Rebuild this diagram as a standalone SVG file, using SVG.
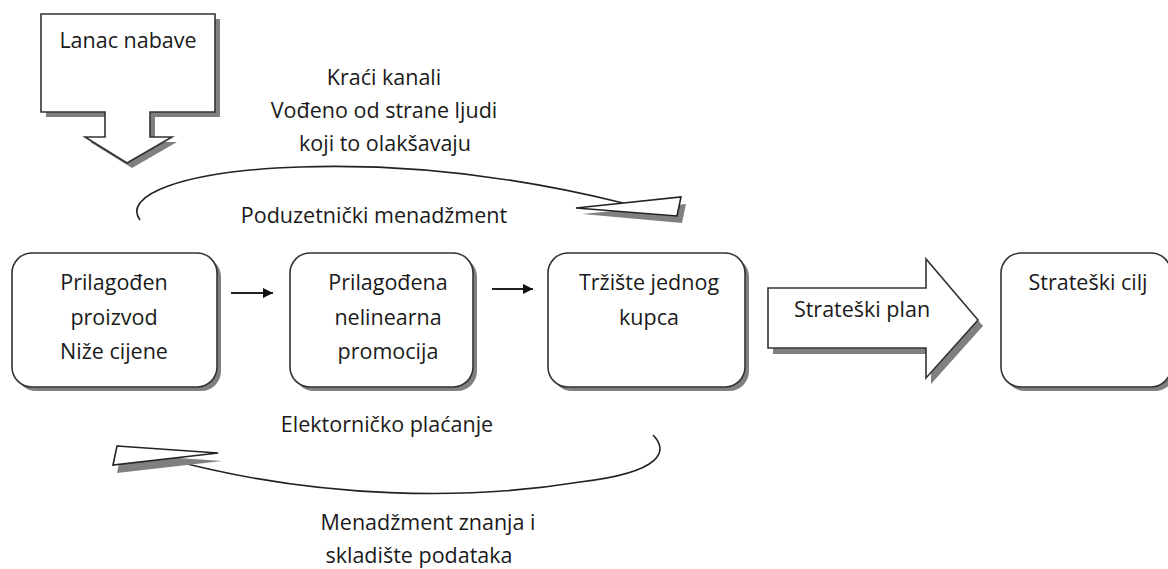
<svg xmlns="http://www.w3.org/2000/svg" width="1168" height="569" viewBox="0 0 1168 569">
<style>
text{font-family:"Open Sans","Noto Sans","DejaVu Sans",sans-serif;font-size:21.5px;fill:#1a1a1a;text-anchor:middle}
.box{fill:#fff;stroke:#333;stroke-width:1.6}
.shadow{fill:#808080}
.curve{fill:none;stroke:#222;stroke-width:1.6}
.head{fill:#fff;stroke:#222;stroke-width:1.6;stroke-linejoin:miter}
.small{stroke:#222;stroke-width:2;fill:none}
</style>
<defs>
<marker id="ah" markerWidth="10" markerHeight="10" refX="10" refY="5" orient="auto" markerUnits="userSpaceOnUse" viewBox="0 0 10 10">
<path d="M0,0 L10,5 L0,10 Z" fill="#111"/>
</marker>
</defs>
<rect width="1168" height="569" fill="#fff"/>

<g id="lanac">
<path class="shadow" d="M46,19 H220 V117 H155 V142 H177 L132,168 L90,142 H110 V117 H46 Z"/>
<path class="box" d="M41,14 H215 V112 H150 V137 H172 L127,163 L85,137 H105 V112 H41 Z"/>
<text x="128" y="48">Lanac nabave</text>
</g>

<g id="top-labels">
<text x="384" y="85">Kraći kanali</text>
<text x="384" y="118">Vođeno od strane ljudi</text>
<text x="385" y="151">koji to olakšavaju</text>
</g>

<g id="connectors">
<path class="curve" d="M140,220 C122,196 180,171 300,167 C420,163 530,180 623,203"/>
<polygon class="shadow" points="582,214 686,204 682,223"/>
<polygon class="head" points="576,208 681,197 677,216"/>
<path class="curve" d="M653,435 C668,450 665,472 580,482 C470,500 320,500 168,459"/>
<polygon class="shadow" points="121,454 222,461 117,473"/>
<polygon class="head" points="117,446 218,453 113,465"/>
<line class="small" x1="231" y1="293" x2="273" y2="293" marker-end="url(#ah)"/>
<line class="small" x1="492" y1="289" x2="533" y2="289" marker-end="url(#ah)"/>
</g>

<text x="374" y="223">Poduzetnički menadžment</text>

<g id="box1">
<rect class="shadow" x="16" y="257" width="205" height="134" rx="20"/>
<rect class="box" x="12" y="253" width="205" height="134" rx="20"/>
<text x="114" y="290">Prilagođen</text>
<text x="114" y="325">proizvod</text>
<text x="114" y="359">Niže cijene</text>
</g>

<g id="box2">
<rect class="shadow" x="294" y="257" width="183" height="134" rx="20"/>
<rect class="box" x="290" y="253" width="183" height="134" rx="20"/>
<text x="388" y="290">Prilagođena</text>
<text x="388" y="325">nelinearna</text>
<text x="388" y="359">promocija</text>
</g>

<g id="box3">
<rect class="shadow" x="552" y="257" width="197" height="134" rx="20"/>
<rect class="box" x="548" y="253" width="197" height="134" rx="20"/>
<text x="649" y="290">Tržište jednog</text>
<text x="649" y="325">kupca</text>
</g>

<g id="plan">
<path class="shadow" d="M773,294 H931 V265 L983,326 L931,384 V354 H773 Z"/>
<path class="box" d="M768,288 H926 V259 L978,320 L926,378 V348 H768 Z"/>
<text x="862" y="317">Strateški plan</text>
</g>

<g id="box4">
<rect class="shadow" x="1005" y="257" width="170" height="134" rx="20"/>
<rect class="box" x="1001" y="253" width="170" height="134" rx="20"/>
<text x="1088" y="290">Strateški cilj</text>
</g>

<g id="bottom-labels">
<text x="387" y="432">Elektorničko plaćanje</text>
<text x="428" y="530">Menadžment znanja i</text>
<text x="419" y="563">skladište podataka</text>
</g>
</svg>
